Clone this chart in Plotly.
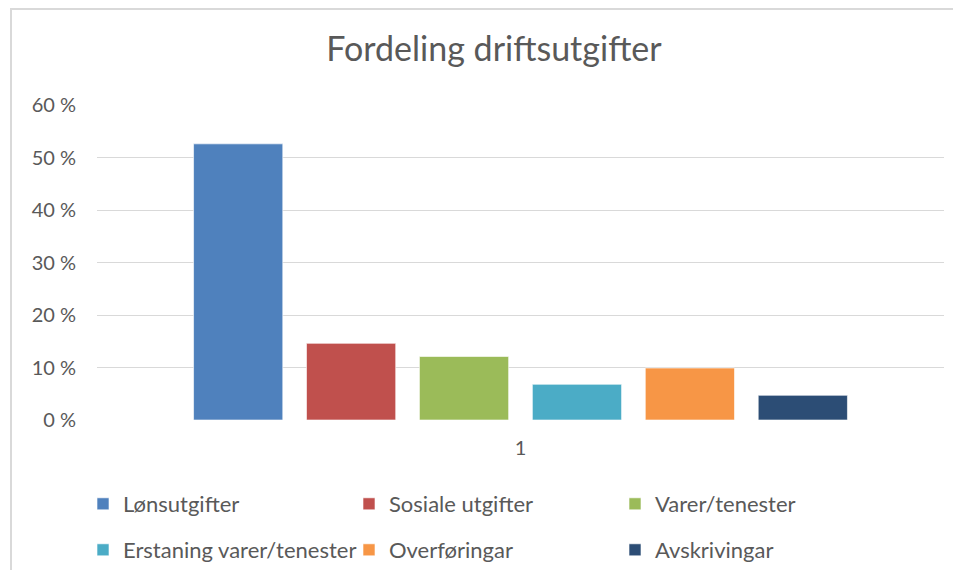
import plotly.graph_objects as go

CATEGORY = ["1"]
SERIES_NAMES = ["Lønsutgifter", "Sosiale utgifter", "Varer/tenester",
                "Erstaning varer/tenester", "Overføringar", "Avskrivingar"]
SERIES_VALUES = [0.526, 0.146, 0.121, 0.068, 0.099, 0.047]
SERIES_COLORS = ["#4F81BD", "#C0504D", "#9BBB59", "#4BACC6", "#F79646", "#2C4D75"]
Y_TICK_VALUES = [0, 0.1, 0.2, 0.3, 0.4, 0.5, 0.6]
Y_TICK_LABELS = ["0 %", "10 %", "20 %", "30 %", "40 %", "50 %", "60 %"]
TITLE = "Fordeling driftsutgifter"

FONT = "Lato, 'Open Sans', sans-serif"
TEXT_COLOR = "#595959"
GRID = "#D9D9D9"

# The page body has an 8px default margin; lay out in reference pixels minus it.
OFF = 8
W, H = 961 - 2 * OFF, 578 - 2 * OFF
PLOT_LEFT, PLOT_RIGHT, PLOT_TOP, PLOT_BOTTOM = 97, 944, 105, 420
L = PLOT_LEFT - OFF
R = W - (PLOT_RIGHT - OFF)
T = PLOT_TOP - OFF
B = H - (PLOT_BOTTOM - OFF)
plot_w = W - L - R
plot_h = H - T - B


def px_x(px):
    return (px - OFF - L) / plot_w


def px_y(py):
    return (H - B - (py - OFF)) / plot_h


fig = go.Figure()
for i, (name, val, col) in enumerate(zip(SERIES_NAMES, SERIES_VALUES, SERIES_COLORS)):
    fig.add_trace(go.Bar(
        x=CATEGORY, y=[val], name=name,
        marker=dict(color=col, line=dict(color="rgba(255,255,255,0.6)", width=1)),
        legend="legend" if i < 3 else "legend2",
        hovertemplate="%{y:.1%}<extra>" + name + "</extra>",
    ))

legend_common = dict(
    orientation="h", xanchor="left", yanchor="middle",
    font=dict(family=FONT, size=22, color=TEXT_COLOR),
    entrywidth=221, entrywidthmode="pixels",
    bgcolor="rgba(0,0,0,0)", borderwidth=0,
    traceorder="normal",
)

fig.update_layout(
    width=W, height=H,
    margin=dict(l=L, r=R, t=T, b=B, autoexpand=False),
    paper_bgcolor="white", plot_bgcolor="white",
    barmode="group", bargap=0.2, bargroupgap=0.21,
    title=dict(text=TITLE, x=(494 - OFF) / W, xanchor="center", xref="container",
               y=1 - (49 - OFF) / H, yanchor="middle", yref="container",
               font=dict(family=FONT, size=34, color=TEXT_COLOR)),
    legend=dict(x=px_x(83), y=px_y(504), **legend_common),
    legend2=dict(x=px_x(83), y=px_y(550), **legend_common),
    xaxis=dict(
        type="category", showgrid=False, zeroline=False, showline=False,
        ticks="", ticklabelstandoff=14,
        tickfont=dict(family=FONT, size=20, color=TEXT_COLOR),
    ),
    yaxis=dict(
        range=[0, 0.6], tickvals=Y_TICK_VALUES, ticktext=Y_TICK_LABELS,
        showgrid=True, gridcolor=GRID, gridwidth=1,
        zeroline=False, showline=False, ticks="", ticklabelstandoff=20,
        tickfont=dict(family=FONT, size=20, color=TEXT_COLOR),
    ),
    shapes=[dict(type="rect", xref="paper", yref="paper",
                 x0=px_x(11), x1=px_x(1000), y0=px_y(620), y1=px_y(9),
                 line=dict(color=GRID, width=2), fillcolor="rgba(0,0,0,0)",
                 layer="below")],
    showlegend=True,
)

fig.write_html("out.html")
